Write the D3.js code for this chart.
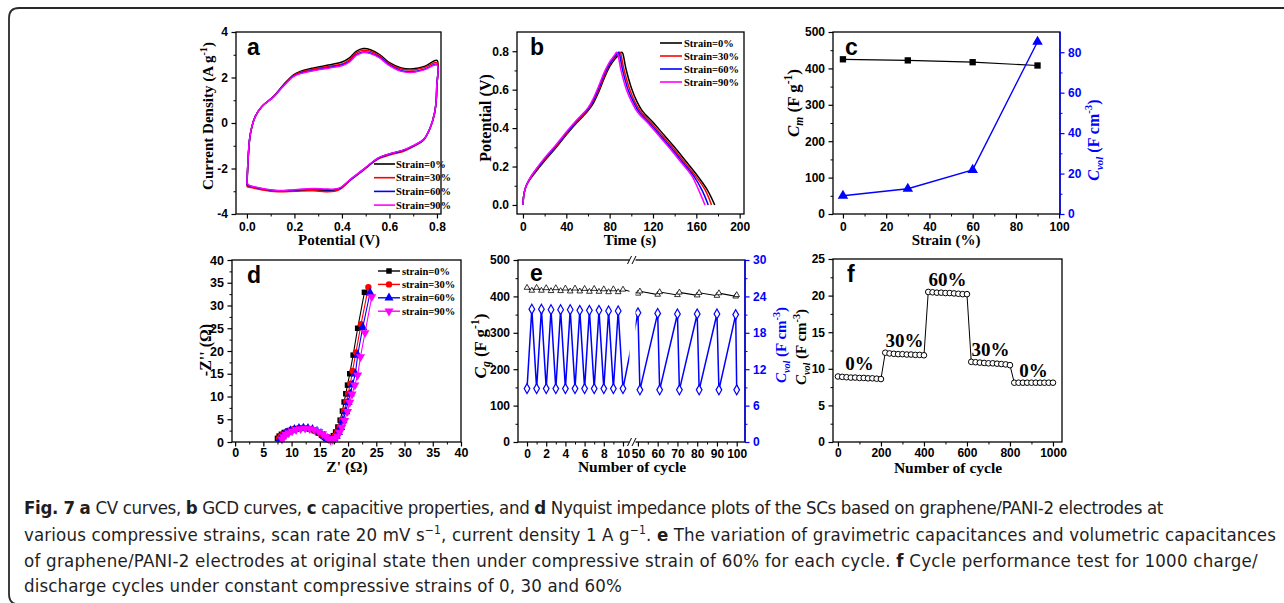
<!DOCTYPE html>
<html>
<head>
<meta charset="utf-8">
<script src="https://cdn.jsdelivr.net/npm/d3@7"></script>
<style>
  body { margin: 0; background: #fff; }
</style>
</head>
<body>
<svg id="fig" width="1284" height="603"></svg>
<script>
/*data======================================================================================================*/

// a : CV curves (anodic branch, then cathodic branch back to 0 V)
var cvVUp = [0, 0.004, 0.011, 0.021, 0.035, 0.063, 0.112, 0.154, 0.196, 0.225, 0.28, 0.35, 0.4, 0.43, 0.46, 0.49, 0.52, 0.56, 0.6, 0.65, 0.7, 0.75, 0.8]
var cvUp0 = [-2.7, -1.8, -0.73, -0.15, 0.29, 0.73, 1.17, 1.68, 2.12, 2.27, 2.42, 2.56, 2.68, 2.85, 3.15, 3.27, 3.22, 3.0, 2.65, 2.42, 2.38, 2.5, 2.75]
var cvUp30 = [-2.8, -1.85, -0.75, -0.16, 0.28, 0.72, 1.16, 1.66, 2.09, 2.23, 2.37, 2.5, 2.6, 2.77, 3.08, 3.2, 3.15, 2.94, 2.6, 2.37, 2.33, 2.45, 2.65]
var cvUp60 = [-2.7, -1.8, -0.74, -0.16, 0.28, 0.72, 1.15, 1.64, 2.06, 2.19, 2.32, 2.45, 2.55, 2.7, 3.0, 3.12, 3.08, 2.88, 2.55, 2.3, 2.26, 2.38, 2.57]
var cvUp90 = [-2.65, -1.75, -0.72, -0.15, 0.28, 0.72, 1.15, 1.63, 2.04, 2.17, 2.3, 2.42, 2.52, 2.67, 2.97, 3.1, 3.05, 2.85, 2.52, 2.27, 2.23, 2.35, 2.55]
var cvVDown = [0.8, 0.799, 0.797, 0.79, 0.772, 0.744, 0.702, 0.66, 0.604, 0.554, 0.52, 0.491, 0.435, 0.395, 0.37, 0.33, 0.28, 0.2, 0.13, 0.06, 0.01, 0]
var cvDown0 = [2.75, 1.6, 1.0, 0.44, -0.2, -0.73, -1.0, -1.2, -1.35, -1.54, -1.8, -2.05, -2.5, -2.85, -2.95, -2.97, -2.93, -2.97, -3.0, -2.9, -2.78, -2.7]
var cvDown30 = [2.65, 1.6, 1.0, 0.44, -0.2, -0.75, -1.03, -1.24, -1.4, -1.58, -1.82, -2.07, -2.52, -2.9, -3.0, -3.02, -2.98, -3.0, -3.02, -2.93, -2.82, -2.8]
var cvDown60 = [2.57, 1.6, 1.0, 0.44, -0.2, -0.73, -1.0, -1.2, -1.36, -1.55, -1.8, -2.05, -2.5, -2.85, -2.92, -2.93, -2.9, -2.95, -2.98, -2.88, -2.76, -2.7]
var cvDown90 = [2.55, 1.6, 1.0, 0.44, -0.2, -0.72, -0.98, -1.18, -1.34, -1.53, -1.78, -2.03, -2.48, -2.83, -2.9, -2.9, -2.88, -2.93, -2.97, -2.87, -2.74, -2.65]

var strainNames = ["Strain=0%", "Strain=30%", "Strain=60%", "Strain=90%"]
var strainColors = ["#000000", "#ff0000", "#0000ff", "#ff00ff"]

// b : GCD curves [time (s), potential (V)]
var gcd0 = [[0,0],[1,0.06],[3,0.1],[6,0.13],[10,0.16],[20,0.23],[30,0.295],[40,0.365],[50,0.43],[60,0.49],[65,0.53],[70,0.59],[75,0.66],[80,0.72],[85,0.76],[89,0.785],[91,0.795],[92,0.79],[95,0.71],[100,0.61],[105,0.54],[110,0.49],[120,0.43],[130,0.365],[140,0.3],[150,0.23],[160,0.16],[170,0.08],[177,0.0]]
var gcd30 = [[0,0],[1,0.06],[3,0.1],[6,0.13],[10,0.165],[20,0.235],[30,0.3],[40,0.37],[50,0.435],[60,0.495],[65,0.54],[70,0.6],[75,0.67],[80,0.73],[85,0.77],[89,0.795],[90,0.79],[93,0.71],[98,0.61],[103,0.54],[108,0.49],[118,0.43],[128,0.365],[138,0.3],[148,0.23],[158,0.16],[168,0.08],[174,0.0]]
var gcd60 = [[0,0],[1,0.06],[3,0.1],[6,0.135],[10,0.168],[20,0.24],[30,0.305],[40,0.375],[50,0.44],[60,0.5],[65,0.545],[70,0.61],[75,0.68],[80,0.735],[85,0.775],[88,0.795],[89,0.785],[92,0.7],[97,0.6],[102,0.535],[107,0.485],[117,0.425],[127,0.36],[137,0.295],[147,0.225],[157,0.155],[165,0.08],[171,0.0]]
var gcd90 = [[0,0],[1,0.06],[3,0.1],[6,0.135],[10,0.17],[20,0.245],[30,0.31],[40,0.38],[50,0.445],[60,0.505],[65,0.555],[70,0.62],[75,0.69],[80,0.745],[84,0.775],[86.5,0.795],[87.5,0.785],[90.5,0.7],[95.5,0.6],[100.5,0.535],[105.5,0.485],[115.5,0.425],[125.5,0.36],[135.5,0.295],[145.5,0.225],[155.5,0.155],[162,0.08],[168,0.0]]

// c : capacitance vs strain
var cStrain = [0, 30, 60, 90]
var cCm = [425, 422, 417, 408]
var cCvol = [9.0, 12.5, 21.8, 85.2]

// d : Nyquist [Z', -Z'']
var nyq0 = [[7.5,0.8],[7.8,1.3],[8.2,1.7],[8.7,2.1],[9.3,2.4],[10,2.7],[10.8,2.9],[11.6,3.0],[12.4,3.0],[13.2,2.8],[14,2.5],[14.7,2.0],[15.3,1.5],[15.8,1.0],[16.2,0.7],[16.6,0.7],[17,0.9],[17.4,1.4],[17.8,2.2],[18.2,3.3],[18.6,4.8],[19,6.8],[19.3,8.8],[19.6,10.6],[19.9,12.5],[20.3,15],[20.9,19.1],[21.7,25],[22.9,32.9]]
var nyq30 = [[7.8,0.8],[8.1,1.3],[8.5,1.7],[9,2.1],[9.6,2.5],[10.3,2.8],[11.1,3.0],[11.9,3.1],[12.7,3.0],[13.5,2.8],[14.3,2.4],[15,1.9],[15.6,1.4],[16.1,0.9],[16.5,0.6],[16.9,0.6],[17.3,0.9],[17.7,1.4],[18.1,2.2],[18.5,3.3],[18.9,4.8],[19.3,6.8],[19.7,8.8],[20,10.6],[20.4,12.8],[20.8,15.6],[21.4,19.7],[22.3,25.9],[23.6,34]]
var nyq60 = [[8,0.7],[8.3,1.2],[8.7,1.7],[9.2,2.1],[9.8,2.5],[10.5,2.8],[11.3,3.0],[12.1,3.1],[12.9,3.0],[13.7,2.8],[14.5,2.4],[15.2,1.9],[15.8,1.3],[16.3,0.8],[16.7,0.5],[17.1,0.5],[17.5,0.8],[17.9,1.3],[18.3,2.1],[18.7,3.2],[19.1,4.7],[19.6,6.7],[20,8.7],[20.4,10.6],[20.8,12.6],[21.3,15],[21.7,19.1],[22.6,25.2],[23.9,32.8]]
var nyq90 = [[8.3,0.6],[8.6,1.1],[9,1.6],[9.5,2.0],[10.1,2.4],[10.8,2.7],[11.6,2.9],[12.4,3.0],[13.2,2.9],[14,2.7],[14.8,2.3],[15.5,1.8],[16.1,1.2],[16.5,0.7],[16.9,0.4],[17.3,0.5],[17.7,0.8],[18.1,1.3],[18.5,2.1],[18.9,3.2],[19.4,4.7],[19.9,6.7],[20.3,8.7],[20.7,10.5],[21.2,12.5],[21.7,14.7],[22.2,18.7],[23,24],[24.2,31.9]]
var nyqNames = ["strain=0%", "strain=30%", "strain=60%", "strain=90%"]

// e : cycling between 0% and 60% strain (broken x axis)
var eCycleLeft = [0, 0.5, 1, 1.5, 2, 2.5, 3, 3.5, 4, 4.5, 5, 5.5, 6, 6.5, 7, 7.5, 8, 8.5, 9, 9.5, 10]
var eCgLeft = [424, 416, 424, 416, 423, 415, 423, 415, 422, 414, 422, 414, 421, 413, 421, 413, 420, 412, 420, 412, 419]
var eCvolLeft = [8.8, 21.9, 8.8, 21.9, 8.8, 21.8, 8.8, 21.8, 8.8, 21.8, 8.8, 21.7, 8.8, 21.7, 8.8, 21.7, 8.8, 21.6, 8.8, 21.6, 8.8]
var eCycleRight = [50, 51, 60, 61, 70, 71, 80, 81, 90, 91, 99.5, 100]
var eCgRight = [408, 414, 405, 412, 404, 411, 403, 410, 402, 409, 400, 404]
var eCvolRight = [21.3, 8.6, 21.2, 8.6, 21.1, 8.6, 21.1, 8.6, 21.1, 8.6, 21.0, 8.6]

// f : cycle performance
var fCycle = [0, 20, 40, 60, 80, 100, 120, 140, 160, 180, 200,
  220, 240, 260, 280, 300, 320, 340, 360, 380, 400,
  420, 440, 460, 480, 500, 520, 540, 560, 580, 600,
  620, 640, 660, 680, 700, 720, 740, 760, 780, 800,
  820, 840, 860, 880, 900, 920, 940, 960, 980, 1000]
var fCvol = [8.95, 8.9, 8.85, 8.8, 8.8, 8.75, 8.75, 8.7, 8.7, 8.65, 8.6,
  12.2, 12.1, 12.05, 12.0, 12.0, 11.95, 11.95, 11.9, 11.9, 11.85,
  20.5, 20.45, 20.4, 20.4, 20.35, 20.35, 20.3, 20.25, 20.2, 20.2,
  10.95, 10.9, 10.85, 10.8, 10.75, 10.75, 10.7, 10.65, 10.6, 10.5,
  8.1, 8.1, 8.1, 8.1, 8.1, 8.1, 8.1, 8.1, 8.1, 8.1]
var fSegStart = [0, 11, 21, 31, 41]
var fSegEnd = [11, 21, 31, 41, 51]
var fLabels = ["0%", "30%", "60%", "30%", "0%"]

// caption
var capLines = [
  [["Fig. 7", 1], [" "], ["a", 1], [" CV curves, "], ["b", 1], [" GCD curves, "], ["c", 1], [" capacitive properties, and "], ["d", 1], [" Nyquist impedance plots of the SCs based on graphene/PANI-2 electrodes at"]],
  [["various compressive strains, scan rate 20 mV s"], ["\u22121", 0, 1], [", current density 1 A g"], ["\u22121", 0, 1], [". "], ["e", 1], [" The variation of gravimetric capacitances and volumetric capacitances"]],
  [["of graphene/PANI-2 electrodes at original state then under compressive strain of 60% for each cycle. "], ["f", 1], [" Cycle performance test for 1000 charge/"]],
  [["discharge cycles under constant compressive strains of 0, 30 and 60%"]]
]
var capWidths = [1139, 1252, 1234, 598]

/*helpers======================================================================================================*/

var svg = d3.select("#fig")
var SANS = "'Liberation Sans', Arial, Helvetica, sans-serif"
var SERIF = "'Liberation Serif', 'Times New Roman', serif"
var BLUE = "#0000ff"

// box around a plot area
function box(g, x, y) {
  var xr = x.range(), yr = y.range()
  g.append("rect")
    .attr("x", xr[0]).attr("y", yr[1])
    .attr("width", xr[1] - xr[0]).attr("height", yr[0] - yr[1])
    .attr("fill", "none").attr("stroke", "#000").attr("stroke-width", 1.3)
}

// major + minor ticks, pointing outward
function ticks(g, scale, side, pos, major, minor, fmt, color, size, pad) {
  color = color || "#000"
  var mk = side == "bottom" ? d3.axisBottom : side == "left" ? d3.axisLeft : d3.axisRight
  var tr = side == "bottom" ? "translate(0," + pos + ")" : "translate(" + pos + ",0)"
  if (minor) {
    var m = g.append("g").attr("transform", tr)
      .call(mk(scale).tickValues(minor).tickSize(2.5).tickFormat(""))
    m.select(".domain").remove()
    m.attr("color", color)
  }
  var a = g.append("g").attr("transform", tr)
    .call(mk(scale).tickValues(major).tickSize(4.5).tickPadding(pad || 3.5).tickFormat(fmt || (d => d)))
  a.select(".domain").remove()
  a.attr("color", color)
    .attr("font-family", SANS).attr("font-size", size || 12).attr("font-weight", "bold")
  a.selectAll("line").attr("stroke-width", 1.2)
}

// text with italic / sub / sup parts
function rich(t, parts, size) {
  var shift = 0
  parts.forEach(p => {
    var s = t.append("tspan").text(p.t)
    var want = p.sup ? -size * 0.42 : p.sub ? size * 0.25 : 0
    if (want != shift) s.attr("dy", want - shift)
    shift = want
    if (p.sup || p.sub) s.attr("font-size", size * 0.68)
    if (p.i) s.attr("font-style", "italic")
  })
}

function xTitle(g, x, y, parts, size) {
  var t = g.append("text").attr("x", x).attr("y", y)
    .attr("text-anchor", "middle").attr("font-family", SERIF)
    .attr("font-weight", "bold").attr("font-size", size || 15)
  rich(t, parts, size || 15)
}

function yTitle(g, x, y, parts, color, size) {
  var t = g.append("text")
    .attr("transform", "translate(" + x + "," + y + ") rotate(-90)")
    .attr("text-anchor", "middle").attr("dy", "0.35em")
    .attr("font-family", SERIF).attr("font-weight", "bold")
    .attr("font-size", size || 15).attr("fill", color || "#000")
  rich(t, parts, size || 15)
}

function letter(g, x, y, s) {
  g.append("text").text(s).attr("x", x).attr("y", y)
    .attr("font-family", SANS).attr("font-weight", "bold").attr("font-size", 23)
}

function legendText(g, x, y, s) {
  g.append("text").text(s).attr("x", x).attr("y", y).attr("dy", "0.35em")
    .attr("font-family", SERIF).attr("font-weight", "bold").attr("font-size", 10.5)
}

/*outer frame======================================================================================================*/
svg.append("path")
  .attr("d", "M1284,8 L19,8 Q9,8 9,18 L9,594 Q9,603 16,604")
  .attr("fill", "none").attr("stroke", "#2a2a2a").attr("stroke-width", 1.8)

/*a : CV======================================================================================================*/
var ga = svg.append("g")
var ax = d3.scaleLinear().domain([-0.046, 0.817]).range([236, 441])
var ay = d3.scaleLinear().domain([-4, 4]).range([214, 32])
var cvLine = d3.line().x(d => ax(d[0])).y(d => ay(d[1])).curve(d3.curveCatmullRom.alpha(0.5))
var cvSeries = [[cvUp0, cvDown0], [cvUp30, cvDown30], [cvUp60, cvDown60], [cvUp90, cvDown90]]
cvSeries.forEach((s, k) => {
  var pts = cvVUp.map((v, i) => [v, s[0][i]]).concat(cvVDown.map((v, i) => [v, s[1][i]]).slice(1))
  ga.append("path").datum(pts).attr("d", cvLine)
    .attr("fill", "none").attr("stroke", strainColors[k]).attr("stroke-width", 1.5)
})
box(ga, ax, ay)
ticks(ga, ax, "bottom", 214, [0, 0.2, 0.4, 0.6, 0.8], [0.1, 0.3, 0.5, 0.7], d3.format(".1f"))
ticks(ga, ay, "left", 236, [-4, -2, 0, 2, 4], [-3, -1, 1, 3])
strainNames.forEach((n, k) => {
  var yy = 164 + k * 13.7
  ga.append("line").attr("x1", 374).attr("x2", 395).attr("y1", yy).attr("y2", yy)
    .attr("stroke", strainColors[k]).attr("stroke-width", 1.6)
  legendText(ga, 396, yy, n)
})
letter(ga, 247, 55, "a")
xTitle(ga, 339, 245, [{t: "Potential (V)"}])
yTitle(ga, 208, 116, [{t: "Current Density (A g"}, {t: "-1", sup: 1}, {t: ")"}])

/*b : GCD======================================================================================================*/
var gb = svg.append("g")
var bx = d3.scaleLinear().domain([-5.5, 204]).range([517, 744])
var by = d3.scaleLinear().domain([-0.047, 0.9]).range([214, 32])
var gcdLine = d3.line().x(d => bx(d[0])).y(d => by(d[1])).curve(d3.curveCatmullRom.alpha(0.5))
;[gcd0, gcd30, gcd60, gcd90].forEach((s, k) => {
  gb.append("path").datum(s).attr("d", gcdLine)
    .attr("fill", "none").attr("stroke", strainColors[k]).attr("stroke-width", 1.5)
})
box(gb, bx, by)
ticks(gb, bx, "bottom", 214, [0, 40, 80, 120, 160, 200], [20, 60, 100, 140, 180])
ticks(gb, by, "left", 517, [0, 0.2, 0.4, 0.6, 0.8], [0.1, 0.3, 0.5, 0.7], d3.format(".1f"))
strainNames.forEach((n, k) => {
  var yy = 43 + k * 13
  gb.append("line").attr("x1", 660).attr("x2", 682).attr("y1", yy).attr("y2", yy)
    .attr("stroke", strainColors[k]).attr("stroke-width", 1.6)
  legendText(gb, 684, yy, n)
})
letter(gb, 530, 55, "b")
xTitle(gb, 630, 245, [{t: "Time (s)"}])
yTitle(gb, 485, 118, [{t: "Potential (V)"}], null, 16)

/*c : capacitance vs strain======================================================================================================*/
var gc = svg.append("g")
var cx = d3.scaleLinear().domain([-4.6, 100.4]).range([833, 1060])
var cyL = d3.scaleLinear().domain([0, 500]).range([214, 32])
var cyR = d3.scaleLinear().domain([0, 90]).range([214, 32])
gc.append("path").datum(cStrain.map((s, i) => [s, cCm[i]]))
  .attr("d", d3.line().x(d => cx(d[0])).y(d => cyL(d[1])))
  .attr("fill", "none").attr("stroke", "#000").attr("stroke-width", 1.2)
gc.append("path").datum(cStrain.map((s, i) => [s, cCvol[i]]))
  .attr("d", d3.line().x(d => cx(d[0])).y(d => cyR(d[1])))
  .attr("fill", "none").attr("stroke", BLUE).attr("stroke-width", 1.4)
gc.selectAll("path.sq").data(cStrain).enter().append("path").attr("class", "sq")
  .attr("d", d3.symbol().type(d3.symbolSquare).size(40))
  .attr("transform", (d, i) => `translate(${cx(d)},${cyL(cCm[i])})`).attr("fill", "#000")
gc.selectAll("path.tri").data(cStrain).enter().append("path").attr("class", "tri")
  .attr("d", d3.symbol().type(d3.symbolTriangle).size(48))
  .attr("transform", (d, i) => `translate(${cx(d)},${cyR(cCvol[i])})`).attr("fill", BLUE)
box(gc, cx, cyL)
gc.append("line").attr("x1", 1060).attr("x2", 1060).attr("y1", 32).attr("y2", 214)
  .attr("stroke", BLUE).attr("stroke-width", 1.4)
ticks(gc, cx, "bottom", 214, [0, 20, 40, 60, 80, 100], [10, 30, 50, 70, 90])
ticks(gc, cyL, "left", 833, [0, 100, 200, 300, 400, 500], [50, 150, 250, 350, 450])
ticks(gc, cyR, "right", 1060, [0, 20, 40, 60, 80], [10, 30, 50, 70], null, BLUE)
letter(gc, 845, 55, "c")
xTitle(gc, 946, 245, [{t: "Strain (%)"}])
yTitle(gc, 793, 103, [{t: "C", i: 1}, {t: "m", sub: 1, i: 1}, {t: " (F g"}, {t: "-1", sup: 1}, {t: ")"}], null, 17)
yTitle(gc, 1093, 140, [{t: "C", i: 1}, {t: "vol", sub: 1, i: 1}, {t: " (F cm"}, {t: "-3", sup: 1}, {t: ")"}], BLUE, 16)

/*d : Nyquist======================================================================================================*/
var gd = svg.append("g")
var dx = d3.scaleLinear().domain([-0.55, 40]).range([232, 461])
var dy = d3.scaleLinear().domain([0, 40]).range([442, 260])
var nyqSym = [d3.symbolSquare, d3.symbolCircle, d3.symbolTriangle, d3.symbolTriangle]
var nyqSize = [30, 32, 36, 36]
var nyqRot = [0, 0, 0, 180]
function nyqMark(sel, k) {
  sel.attr("d", d3.symbol().type(nyqSym[k]).size(nyqSize[k]))
    .attr("fill", strainColors[k])
}
;[nyq0, nyq30, nyq60, nyq90].forEach((s, k) => {
  gd.append("path").datum(s).attr("d", d3.line().x(d => dx(d[0])).y(d => dy(d[1])))
    .attr("fill", "none").attr("stroke", strainColors[k]).attr("stroke-width", 1.1)
  gd.selectAll("path.m" + k).data(s).enter().append("path").attr("class", "m" + k)
    .call(nyqMark, k)
    .attr("transform", d => `translate(${dx(d[0])},${dy(d[1])}) rotate(${nyqRot[k]})`)
})
box(gd, dx, dy)
ticks(gd, dx, "bottom", 442, [0, 5, 10, 15, 20, 25, 30, 35, 40], [2.5, 7.5, 12.5, 17.5, 22.5, 27.5, 32.5, 37.5], null, null, 12.5, 2)
ticks(gd, dy, "left", 232, [0, 5, 10, 15, 20, 25, 30, 35, 40], [2.5, 7.5, 12.5, 17.5, 22.5, 27.5, 32.5, 37.5], null, null, 12.5)
nyqNames.forEach((n, k) => {
  var yy = 271 + k * 13.4
  gd.append("line").attr("x1", 378).attr("x2", 400).attr("y1", yy).attr("y2", yy)
    .attr("stroke", strainColors[k]).attr("stroke-width", 1.4)
  gd.append("path").call(nyqMark, k)
    .attr("transform", `translate(389,${yy}) rotate(${nyqRot[k]})`)
  legendText(gd, 402, yy, n)
})
letter(gd, 247, 283, "d")
xTitle(gd, 347, 472, [{t: "Z' (\u03a9)"}], 15.5)
yTitle(gd, 205, 350, [{t: "-Z'' (\u03a9)"}], null, 16)

/*e : broken axis cycling======================================================================================================*/
var ge = svg.append("g")
var exL = d3.scaleLinear().domain([-0.94, 10.94]).range([518, 632])
var exR = d3.scaleLinear().domain([47, 104.2]).range([632, 745])
var ex = c => c < 30 ? exL(c) : exR(c)
var eyL = d3.scaleLinear().domain([0, 500]).range([442, 260])
var eyR = d3.scaleLinear().domain([0, 30]).range([442, 260])
var eCycles = eCycleLeft.concat(eCycleRight)
var eCg = eCgLeft.concat(eCgRight)
var eCvol = eCvolLeft.concat(eCvolRight)
ge.append("path").datum(eCycles.map((c, i) => [c, eCg[i]]))
  .attr("d", d3.line().x(d => ex(d[0])).y(d => eyL(d[1])))
  .attr("fill", "none").attr("stroke", "#000").attr("stroke-width", 1.1)
ge.append("path").datum(eCycles.map((c, i) => [c, eCvol[i]]))
  .attr("d", d3.line().x(d => ex(d[0])).y(d => eyR(d[1])))
  .attr("fill", "none").attr("stroke", BLUE).attr("stroke-width", 1.5)
ge.selectAll("path.etri").data(eCycles).enter().append("path").attr("class", "etri")
  .attr("d", d3.symbol().type(d3.symbolTriangle).size(14))
  .attr("transform", (d, i) => `translate(${ex(d)},${eyL(eCg[i])})`)
  .attr("fill", "#fff").attr("stroke", "#000").attr("stroke-width", 0.8)
ge.selectAll("path.edia").data(eCycles).enter().append("path").attr("class", "edia")
  .attr("d", d3.symbol().type(d3.symbolDiamond).size(28))
  .attr("transform", (d, i) => `translate(${ex(d)},${eyR(eCvol[i])})`)
  .attr("fill", "#fff").attr("stroke", BLUE).attr("stroke-width", 1.2)
ge.append("rect").attr("x", 518).attr("y", 260).attr("width", 227).attr("height", 182)
  .attr("fill", "none").attr("stroke", "#000").attr("stroke-width", 1.3)
ge.append("line").attr("x1", 745).attr("x2", 745).attr("y1", 260).attr("y2", 442)
  .attr("stroke", BLUE).attr("stroke-width", 1.4)
ticks(ge, exL, "bottom", 442, [0, 2, 4, 6, 8, 10], [1, 3, 5, 7, 9], null, null, 12, 2.5)
ticks(ge, exR, "bottom", 442, [50, 60, 70, 80, 90, 100], [55, 65, 75, 85, 95], null, null, 12, 2.5)
ticks(ge, eyL, "left", 518, [0, 100, 200, 300, 400, 500], [50, 150, 250, 350, 450])
ticks(ge, eyR, "right", 745, [0, 6, 12, 18, 24, 30], [3, 9, 15, 21, 27], null, BLUE)
// axis break
ge.append("rect").attr("x", 629.5).attr("y", 254).attr("width", 6).attr("height", 194).attr("fill", "#fff")
;[260, 442].forEach(yy => {
  ;[627.5, 632].forEach(xx => {
    ge.append("line").attr("x1", xx).attr("y1", yy + 4).attr("x2", xx + 4).attr("y2", yy - 4)
      .attr("stroke", "#000").attr("stroke-width", 1)
  })
})
letter(ge, 530, 281, "e")
xTitle(ge, 632, 472, [{t: "Number of cycle"}], 15.5)
yTitle(ge, 480, 346, [{t: "C", i: 1}, {t: "g", sub: 1, i: 1}, {t: " (F g"}, {t: "-1", sup: 1}, {t: ")"}], null, 17)
yTitle(ge, 781, 345, [{t: "C", i: 1}, {t: "vol", sub: 1, i: 1}, {t: " (F cm"}, {t: "-3", sup: 1}, {t: ")"}], BLUE, 15)

/*f : cycle performance======================================================================================================*/
var gf = svg.append("g")
var fx = d3.scaleLinear().domain([-23, 1042]).range([833, 1062])
var fy = d3.scaleLinear().domain([0, 25]).range([442, 259])
gf.append("path").datum(fCycle.map((c, i) => [c, fCvol[i]]))
  .attr("d", d3.line().x(d => fx(d[0])).y(d => fy(d[1])))
  .attr("fill", "none").attr("stroke", "#000").attr("stroke-width", 1)
gf.selectAll("circle").data(fCycle).enter().append("circle")
  .attr("cx", d => fx(d)).attr("cy", (d, i) => fy(fCvol[i])).attr("r", 2.8)
  .attr("fill", "#fff").attr("stroke", "#000").attr("stroke-width", 1)
box(gf, fx, fy)
ticks(gf, fx, "bottom", 442, [0, 200, 400, 600, 800, 1000], [100, 300, 500, 700, 900], null, null, 12, 2)
ticks(gf, fy, "left", 833, [0, 5, 10, 15, 20, 25], [2.5, 7.5, 12.5, 17.5, 22.5])
fLabels.forEach((s, k) => {
  var seg = fCycle.slice(fSegStart[k], fSegEnd[k])
  var vals = fCvol.slice(fSegStart[k], fSegEnd[k])
  gf.append("text").text(s)
    .attr("x", fx(d3.mean(seg))).attr("y", fy(d3.max(vals)) - 6)
    .attr("text-anchor", "middle").attr("font-family", SERIF)
    .attr("font-weight", "bold").attr("font-size", 19)
})
letter(gf, 847, 282, "f")
xTitle(gf, 948, 473, [{t: "Number of cycle"}], 15.5)
yTitle(gf, 801, 347, [{t: "C", i: 1}, {t: "vol", sub: 1, i: 1}, {t: " (F cm"}, {t: "-3", sup: 1}, {t: ")"}], null, 15)

/*caption======================================================================================================*/
var capY = [514, 541, 567, 592]
capLines.forEach((line, k) => {
  var t = svg.append("text").attr("x", 24).attr("y", capY[k])
    .attr("font-family", "'DejaVu Sans Condensed', 'Liberation Sans Narrow', 'Noto Sans', sans-serif")
    .attr("font-size", 18.5).attr("fill", "#1e1e1e")
  var shift = 0, n = 0
  line.forEach(p => {
    var s = t.append("tspan").text(p[0])
    var want = p[2] ? -7 : 0
    if (want != shift) s.attr("dy", want - shift)
    shift = want
    n += p[0].length
    if (p[1]) s.attr("font-weight", "bold")
    if (p[2]) s.attr("font-size", 12)
  })
  // stretch or squeeze the spacing so each line ends where the reference line ends
  var natural = t.node().getComputedTextLength()
  t.attr("letter-spacing", (capWidths[k] - natural) / n)
})
</script>
</body>
</html>
